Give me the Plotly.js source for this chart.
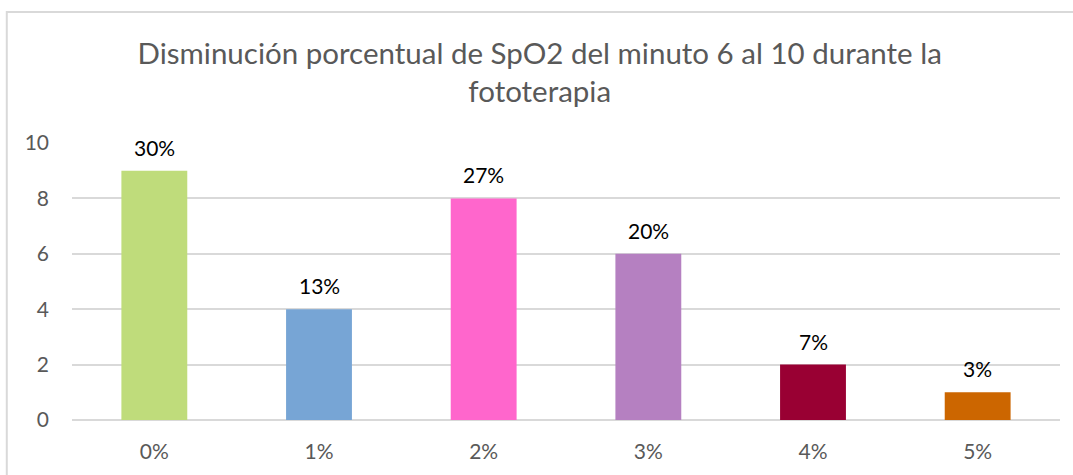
<!DOCTYPE html>
<html><head><meta charset="utf-8">
<script src="https://cdn.plot.ly/plotly-3.0.1.min.js"></script>
<style>html,body{margin:0;padding:0;background:#fff;}#chart{width:1073px;height:475px;}</style>
</head><body><div id="chart"></div>
<script>
const categories = ['0%', '1%', '2%', '3%', '4%', '5%'];
const counts = [9, 4, 8, 6, 2, 1];
const labels = ['30%', '13%', '27%', '20%', '7%', '3%'];
const colors = ['#BFDC7B', '#77A5D5', '#FF66CC', '#B580C1', '#990033', '#CC6600'];
const titleText = 'Disminución porcentual de SpO2 del minuto 6 al 10 durante la<br>fototerapia';

const trace = {
  type: 'bar', x: categories, y: counts,
  marker: {color: colors}, width: 0.4, hoverinfo: 'none'
};
const annotations = categories.map((c, i) => ({
  x: c, y: counts[i], xref: 'x', yref: 'y', text: labels[i], showarrow: false,
  yanchor: 'bottom', yshift: 9,
  font: {family: 'Lato, sans-serif', size: 21, color: '#000'}
}));
const layout = {
  width: 1073, height: 475,
  margin: {l: 72, r: 13, t: 143, b: 55},
  paper_bgcolor: '#fff', plot_bgcolor: '#fff',
  title: {text: titleText, x: 0.503, xanchor: 'center', y: 0.866, yanchor: 'top',
    font: {family: 'Lato, sans-serif', size: 29.5, color: '#595959'}},
  xaxis: {type: 'category', showgrid: false, zeroline: false, showline: false, ticks: '',
    tickfont: {family: 'Lato, sans-serif', size: 21, color: '#595959'}, ticklabelstandoff: 17},
  yaxis: {range: [0, 10], dtick: 2, showgrid: true, gridcolor: '#D9D9D9', gridwidth: 2,
    zeroline: true, zerolinecolor: '#D9D9D9', zerolinewidth: 2, ticks: '',
    tickfont: {family: 'Lato, sans-serif', size: 21, color: '#595959'}, ticklabelstandoff: 22},
  annotations: annotations,
  shapes: [{type: 'rect', xref: 'paper', yref: 'paper', x0: -0.066, x1: 1.05, y0: -0.3, y1: 1.473,
    line: {color: '#D9D9D9', width: 2}}],
  showlegend: false
};
Plotly.newPlot('chart', [trace], layout, {displayModeBar: false, staticPlot: true});
</script></body></html>
